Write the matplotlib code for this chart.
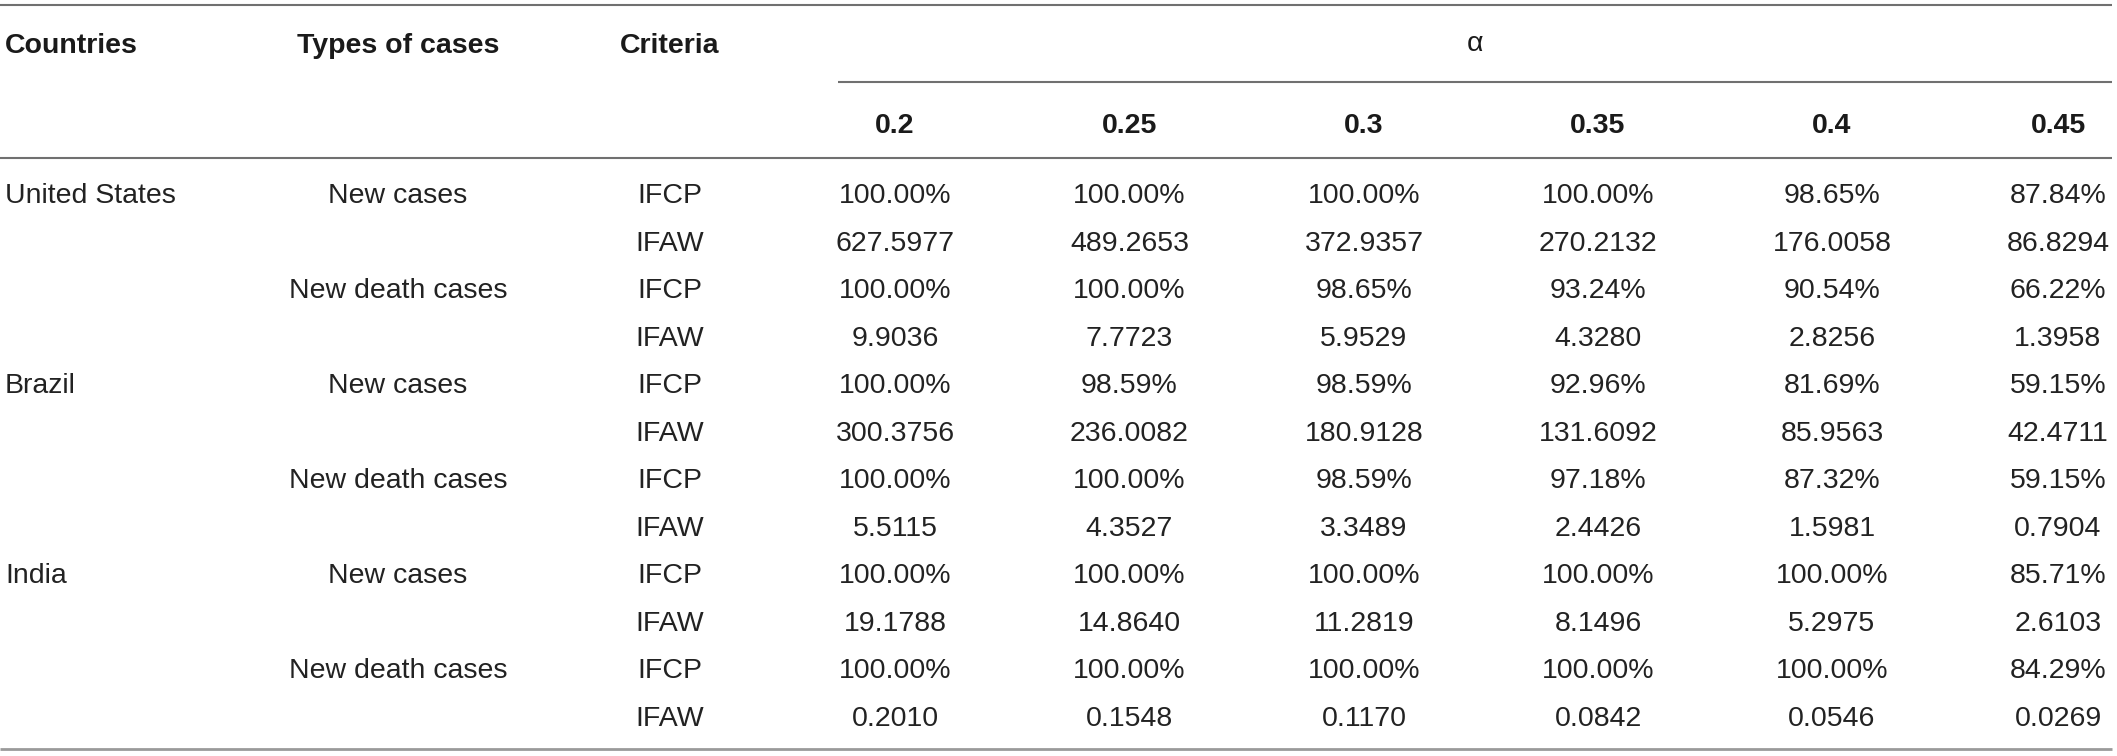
import matplotlib
matplotlib.use("Agg")
import matplotlib.pyplot as plt

# ---- data ----
countries = ["United States", "Brazil", "India"]
case_types = ["New cases", "New death cases"]
criteria = ["IFCP", "IFAW"]
alphas = ["0.2", "0.25", "0.3", "0.35", "0.4", "0.45"]

us_new_ifcp = ["100.00%", "100.00%", "100.00%", "100.00%", "98.65%", "87.84%"]
us_new_ifaw = ["627.5977", "489.2653", "372.9357", "270.2132", "176.0058", "86.8294"]
us_death_ifcp = ["100.00%", "100.00%", "98.65%", "93.24%", "90.54%", "66.22%"]
us_death_ifaw = ["9.9036", "7.7723", "5.9529", "4.3280", "2.8256", "1.3958"]
br_new_ifcp = ["100.00%", "98.59%", "98.59%", "92.96%", "81.69%", "59.15%"]
br_new_ifaw = ["300.3756", "236.0082", "180.9128", "131.6092", "85.9563", "42.4711"]
br_death_ifcp = ["100.00%", "100.00%", "98.59%", "97.18%", "87.32%", "59.15%"]
br_death_ifaw = ["5.5115", "4.3527", "3.3489", "2.4426", "1.5981", "0.7904"]
in_new_ifcp = ["100.00%", "100.00%", "100.00%", "100.00%", "100.00%", "85.71%"]
in_new_ifaw = ["19.1788", "14.8640", "11.2819", "8.1496", "5.2975", "2.6103"]
in_death_ifcp = ["100.00%", "100.00%", "100.00%", "100.00%", "100.00%", "84.29%"]
in_death_ifaw = ["0.2010", "0.1548", "0.1170", "0.0842", "0.0546", "0.0269"]

rows = [
    us_new_ifcp, us_new_ifaw, us_death_ifcp, us_death_ifaw,
    br_new_ifcp, br_new_ifaw, br_death_ifcp, br_death_ifaw,
    in_new_ifcp, in_new_ifaw, in_death_ifcp, in_death_ifaw,
]

# ---- layout (pixel coordinates) ----
W, H = 2117, 756
fig = plt.figure(figsize=(W / 100, H / 100), dpi=100)
ax = fig.add_axes([0, 0, 1, 1])
ax.set_xlim(0, W)
ax.set_ylim(H, 0)
ax.axis("off")

FAM = ["Liberation Sans", "DejaVu Sans"]
FS = 20.5
CAP = 10.2  # half cap height in px -> baseline offset
TXT = "#222222"
HDR = "#1a1a1a"

x_country = 5
x_type = 398
x_crit = 670
x_cols = [895, 1129.5, 1364, 1598, 1832, 2058]

row0 = 193
dy = 47.5

line_col = "#707070"
lw = 1.5
x_right = 2112

# rules
ax.plot([0, x_right], [5, 5], color=line_col, lw=lw, solid_capstyle="butt")
ax.plot([838, x_right], [82, 82], color=line_col, lw=lw, solid_capstyle="butt")
ax.plot([0, x_right], [158, 158], color=line_col, lw=lw, solid_capstyle="butt")
ax.plot([0, x_right], [749, 749], color="#9a9a9a", lw=2.0, solid_capstyle="butt")

# headers
hy = 43 + CAP
ax.text(x_country, hy, "Countries", ha="left", va="baseline", fontsize=FS,
        fontweight="bold", family=FAM, color=HDR)
ax.text(x_type, hy, "Types of cases", ha="center", va="baseline", fontsize=FS,
        fontweight="bold", family=FAM, color=HDR)
ax.text(x_crit, hy, "Criteria", ha="center", va="baseline", fontsize=FS,
        fontweight="bold", family=FAM, color=HDR)
ax.text((838 + x_right) / 2, hy - 2, "\u03b1", ha="center", va="baseline",
        fontsize=FS, family=FAM, color=HDR)
for xc, a in zip(x_cols, alphas):
    ax.text(xc, 123 + CAP, a, ha="center", va="baseline", fontsize=FS,
            fontweight="bold", family=FAM, color=HDR)

# body
i = 0
for c in countries:
    for t_idx, t in enumerate(case_types):
        for k, cr in enumerate(criteria):
            y = row0 + i * dy + CAP
            if t_idx == 0 and k == 0:
                ax.text(x_country, y, c, ha="left", va="baseline", fontsize=FS,
                        family=FAM, color=TXT)
            if k == 0:
                ax.text(x_type, y, t, ha="center", va="baseline", fontsize=FS,
                        family=FAM, color=TXT)
            ax.text(x_crit, y, cr, ha="center", va="baseline", fontsize=FS,
                    family=FAM, color=TXT)
            for xc, v in zip(x_cols, rows[i]):
                ax.text(xc, y, v, ha="center", va="baseline", fontsize=FS,
                        family=FAM, color=TXT)
            i += 1

fig.savefig("out.png", dpi=100, facecolor="white")
